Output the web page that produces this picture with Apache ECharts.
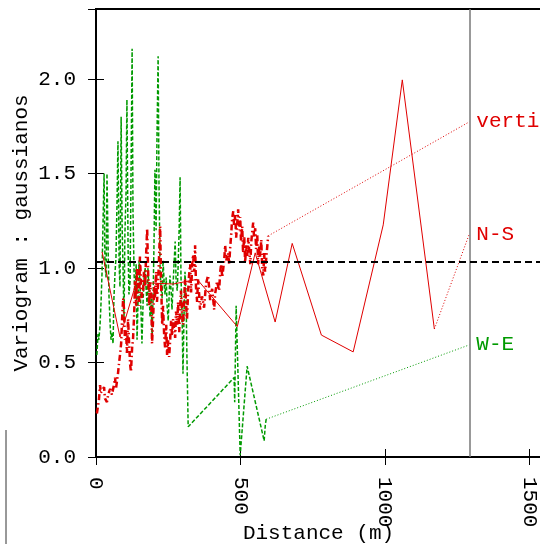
<!DOCTYPE html>
<html>
<head>
<meta charset="utf-8">
<script src="https://cdn.jsdelivr.net/npm/echarts@6/dist/echarts.min.js"></script>
<style>
  html, body { margin: 0; padding: 0; background: #fff; }
  #chartLineBox { width: 540px; height: 544px; }
</style>
</head>
<body>
<div id="chartLineBox"></div>
<script>
// variogram values: [distance (m), gamma]
var vertical = [
  [3,0.23],[10,0.30],[14,0.38],[17,0.34],[21,0.33],[28,0.37],[31,0.31],[38,0.29],[42,0.33],[49,0.36],
  [55,0.33],[62,0.38],[66,0.42],[69,0.36],[76,0.44],[80,0.50],[83,0.54],[87,0.60],[90,0.72],[94,0.84],
  [97,0.78],[100,0.62],[104,0.67],[107,0.55],[111,0.73],[114,0.62],[118,0.49],[121,0.45],[125,0.58],[128,0.62],
  [132,0.75],[135,0.93],[139,0.80],[142,1.00],[146,0.89],[149,0.80],[152,1.06],[156,0.92],[159,0.84],[163,0.88],
  [166,0.98],[170,0.90],[173,1.05],[177,1.21],[180,1.00],[184,0.80],[187,0.92],[191,0.86],[194,0.60],[198,0.74],
  [201,0.90],[204,0.84],[208,0.98],[211,0.82],[215,0.92],[218,1.05],[222,1.22],[225,0.95],[229,0.70],[232,0.80],
  [236,0.64],[239,0.58],[243,0.70],[246,0.54],[250,0.62],[253,0.53],[256,0.60],[260,0.72],[263,0.64],[267,0.73],
  [270,0.68],[274,0.63],[277,0.77],[281,0.70],[284,0.82],[288,0.66],[291,0.78],[294,0.88],[298,0.75],[301,0.70],
  [305,0.82],[308,0.94],[312,0.80],[315,0.73],[319,0.88],[322,0.96],[326,1.02],[329,0.87],[333,1.02],[336,1.07],
  [340,0.98],[343,1.12],[346,0.90],[350,0.82],[353,0.94],[357,0.86],[360,0.78],[367,0.85],[374,0.79],[381,0.92],
  [388,0.96],[395,0.83],[402,0.89],[409,0.78],[412,0.86],[419,0.93],[426,0.88],[430,0.98],[433,1.02],[437,0.95],
  [444,1.05],[447,1.12],[451,1.04],[457,1.08],[461,1.02],[464,1.10],[468,1.18],[471,1.26],[475,1.30],[478,1.22],
  [482,1.28],[485,1.16],[489,1.24],[492,1.31],[495,1.20],[499,1.27],[502,1.14],[506,1.22],[509,1.08],[513,1.17],
  [516,1.03],[520,1.12],[523,1.06],[527,1.16],[530,1.10],[534,1.02],[537,1.13],[541,1.20],[544,1.24],[547,1.16],
  [551,1.21],[554,1.10],[558,1.18],[561,1.02],[565,1.12],[568,1.06],[572,1.15],[575,1.00],[579,0.96],[582,1.08],
  [585,0.98],[589,1.05],[596,1.17]
];
var northSouth = [
  [21,1.085],[83,0.635],[142,0.937],[194,0.92],[267,0.915],[350,0.94],[489,0.69],[551,1.08],
  [620,0.714],[679,1.13],[780,0.645],[890,0.556],[994,1.228],[1060,1.995],[1171,0.677]
];
var westEast = [
  [3,0.54],[7,0.65],[10,0.62],[14,0.70],[17,0.80],[21,0.98],[24,1.22],[28,1.50],[31,1.02],[35,0.95],
  [38,1.50],[42,1.10],[45,0.85],[49,0.70],[52,0.62],[55,0.66],[59,0.60],[62,0.84],[66,0.98],[69,1.05],
  [73,1.37],[76,1.67],[80,1.02],[83,0.90],[87,1.80],[90,1.26],[94,0.96],[97,0.72],[100,1.18],[104,1.40],
  [107,1.89],[111,1.10],[114,0.86],[118,0.93],[121,1.45],[125,2.16],[128,1.30],[132,0.96],[135,0.84],[139,1.02],
  [142,0.62],[146,0.85],[149,1.04],[152,0.92],[156,0.76],[159,0.60],[163,0.82],[166,0.94],[170,1.00],[173,0.90],
  [177,0.80],[180,1.00],[184,0.86],[187,0.74],[191,0.84],[194,0.62],[198,0.88],[201,1.15],[204,1.52],[208,1.20],
  [211,1.68],[215,2.12],[218,1.45],[222,0.98],[225,0.90],[229,0.84],[232,1.04],[236,0.92],[239,0.86],[243,0.95],
  [246,0.80],[250,0.72],[253,0.85],[256,0.96],[260,0.88],[263,0.78],[267,0.92],[270,1.02],[274,1.14],[277,0.94],
  [281,0.88],[284,1.00],[288,1.22],[291,1.48],[294,0.96],[298,0.74],[301,0.44],[305,0.78],[308,0.98],[312,0.82],
  [315,0.50],[319,0.16],[478,0.42],[480,0.29],[485,0.80],[499,0.01],[523,0.48],[582,0.085],[584,0.13],[586,0.17],[589,0.20]
];

var sill = 1.032;          // dashed variance line
var labelX = 1292;         // where the label column starts
var labelNames = ["vertical", "N-S", "W-E"];
var labelY = [1.773, 1.18, 0.593];
var xTicks = { min: 0, max: 1540, step: 500 };
var yTicks = { min: 0, max: 2.37, step: 0.5 };

var red = "#e00000";
var green = "#009a00";
var fontName = "Liberation Mono";

function lastOf(arr) { return arr[arr.length - 1]; }

var chartLine = echarts.init(document.getElementById("chartLineBox"));

var tickStyle = { show: true, inside: true, length: 8, lineStyle: { color: "#000", width: 1 } };

function connector(name, from, y, color) {
  return {
    name: name,
    type: "line",
    data: [from, [labelX, y]],
    symbol: "none",
    silent: true,
    lineStyle: { color: color, width: 1, type: [1, 2] },
    endLabel: {
      show: true,
      formatter: name,
      color: color,
      fontFamily: fontName,
      fontSize: 21,
      distance: 7
    }
  };
}

var option = {
  animation: false,
  backgroundColor: "#fff",
  grid: {
    left: 96,
    top: 9,
    right: -1,
    bottom: 87,
    show: true,
    borderColor: "#000",
    borderWidth: 2,
    outerBoundsMode: "none"
  },
  xAxis: [
    {
      type: "value",
      min: xTicks.min,
      max: xTicks.max,
      interval: xTicks.step,
      name: "Distance (m)",
      nameLocation: "middle",
      nameGap: 66,
      nameMoveOverlap: false,
      nameTextStyle: { color: "#000", fontFamily: fontName, fontSize: 21 },
      axisLine: { show: false },
      axisTick: tickStyle,
      splitLine: { show: false },
      axisLabel: {
        rotate: -90,
        margin: 20,
        color: "#000",
        fontFamily: fontName,
        fontSize: 21,
        showMaxLabel: false,
        formatter: function (v) { return String(v); }
      }
    },
    {
      type: "value",
      position: "top",
      min: xTicks.min,
      max: xTicks.max,
      interval: xTicks.step,
      axisLine: { show: false },
      axisTick: tickStyle,
      splitLine: { show: false },
      axisLabel: { show: false }
    }
  ],
  yAxis: [
    {
      type: "value",
      min: yTicks.min,
      max: yTicks.max,
      interval: yTicks.step,
      name: "Variogram : gaussianos",
      nameLocation: "middle",
      nameGap: 64,
      nameMoveOverlap: false,
      nameTextStyle: { color: "#000", fontFamily: fontName, fontSize: 21 },
      axisLine: { show: false },
      axisTick: tickStyle,
      splitLine: { show: false },
      axisLabel: {
        margin: 20,
        color: "#000",
        fontFamily: fontName,
        fontSize: 21,
        showMaxLabel: false,
        formatter: function (v) { return v.toFixed(1); }
      }
    },
    {
      type: "value",
      position: "right",
      min: yTicks.min,
      max: yTicks.max,
      interval: yTicks.step,
      axisLine: { show: false },
      axisTick: tickStyle,
      splitLine: { show: false },
      axisLabel: { show: false }
    }
  ],
  series: [
    {
      name: "W-E data",
      type: "line",
      data: westEast,
      symbol: "none",
      lineStyle: { color: green, width: 1.5, type: [4, 2] }
    },
    {
      name: "N-S data",
      type: "line",
      data: northSouth,
      symbol: "none",
      lineStyle: { color: red, width: 1 }
    },
    {
      name: "vertical data",
      type: "line",
      data: vertical,
      symbol: "none",
      lineStyle: { color: red, width: 2.5, type: [6, 3, 1.5, 3] }
    },
    connector(labelNames[0], lastOf(vertical), labelY[0], red),
    connector(labelNames[1], lastOf(northSouth), labelY[1], red),
    connector(labelNames[2], lastOf(westEast), labelY[2], green),
    {
      name: "sill",
      type: "line",
      data: [[xTicks.min, sill], [xTicks.max, sill]],
      symbol: "none",
      z: 5,
      lineStyle: { color: "#000", width: 2, type: [7, 4] },
      markLine: {
        silent: true,
        symbol: "none",
        label: { show: false },
        lineStyle: { color: "#777", width: 1.5, type: "solid" },
        data: [{ xAxis: labelX }]
      }
    }
  ],
  graphic: [
    {
      type: "line",
      shape: { x1: 6, y1: 430, x2: 6, y2: 544 },
      style: { stroke: "#333", lineWidth: 1 }
    }
  ]
};

chartLine.setOption(option);
</script>
</body>
</html>
